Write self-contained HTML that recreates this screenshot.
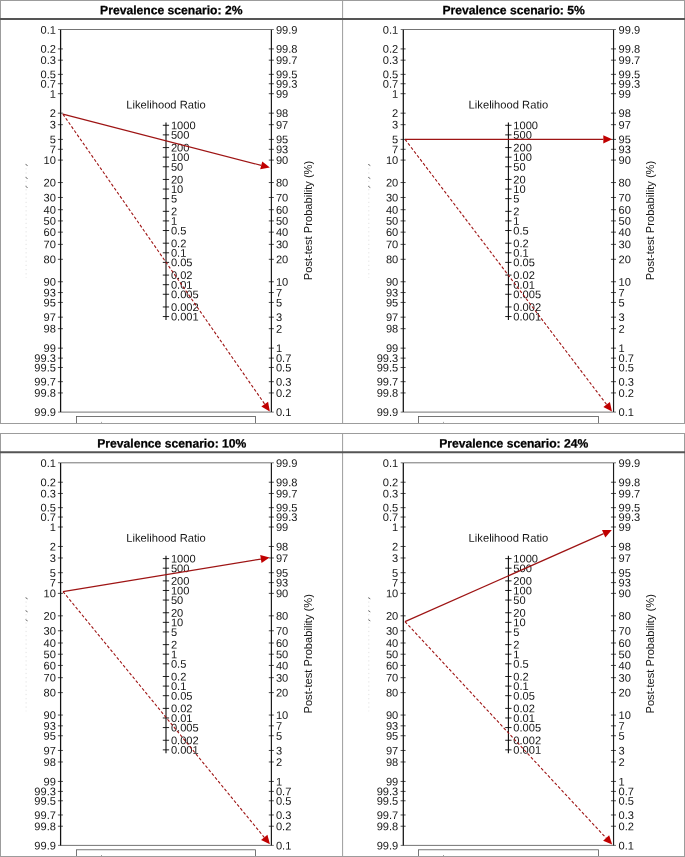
<!DOCTYPE html>
<html><head><meta charset="utf-8"><title>Fagan nomograms</title>
<style>html,body{margin:0;padding:0;background:#fff;}body{width:685px;height:857px;overflow:hidden;}svg{display:block;will-change:transform;font-family:"Liberation Sans",sans-serif;}</style></head><body>
<svg width="685" height="857" viewBox="0 0 685 857">
<rect width="685" height="857" fill="#fff"/>
<g transform="translate(0,0)">
<text x="171.3" y="14.25" text-anchor="middle" font-weight="bold" font-size="12.15" fill="#000" stroke="#000" stroke-width="0.25" transform="rotate(0.03 171.3 14.25)">Prevalence scenario: 2%</text>
<line x1="58.00" x2="273.80" y1="29.5" y2="29.5" stroke="#505050" stroke-width="0.8"/>
<line x1="58.00" x2="273.80" y1="412.1" y2="412.1" stroke="#505050" stroke-width="0.8"/>
<line x1="60.6" x2="60.6" y1="29.8" y2="412.1" stroke="#111" stroke-width="1.25"/>
<line x1="271.4" x2="271.4" y1="29.8" y2="412.1" stroke="#1c1c1c" stroke-width="1.2"/>
<text x="55.90" y="33.65" text-anchor="end" font-size="11.1" fill="#151515" transform="rotate(0.03 55.90 33.65)">0.1</text>
<text x="275.90" y="416.10" font-size="11.1" fill="#151515" transform="rotate(0.03 275.90 416.10)">0.1</text>
<line x1="57.90" x2="62.90" y1="48.92" y2="48.92" stroke="#111" stroke-width="0.75"/>
<text x="55.90" y="52.87" text-anchor="end" font-size="11.1" fill="#151515" transform="rotate(0.03 55.90 52.87)">0.2</text>
<line x1="268.80" x2="273.85" y1="392.93" y2="392.93" stroke="#111" stroke-width="0.75"/>
<text x="275.90" y="396.88" font-size="11.1" fill="#151515" transform="rotate(0.03 275.90 396.88)">0.2</text>
<line x1="57.90" x2="62.90" y1="60.17" y2="60.17" stroke="#111" stroke-width="0.75"/>
<text x="55.90" y="64.12" text-anchor="end" font-size="11.1" fill="#151515" transform="rotate(0.03 55.90 64.12)">0.3</text>
<line x1="268.80" x2="273.85" y1="381.68" y2="381.68" stroke="#111" stroke-width="0.75"/>
<text x="275.90" y="385.63" font-size="11.1" fill="#151515" transform="rotate(0.03 275.90 385.63)">0.3</text>
<line x1="57.90" x2="62.90" y1="74.37" y2="74.37" stroke="#111" stroke-width="0.75"/>
<text x="55.90" y="78.32" text-anchor="end" font-size="11.1" fill="#151515" transform="rotate(0.03 55.90 78.32)">0.5</text>
<line x1="268.80" x2="273.85" y1="367.48" y2="367.48" stroke="#111" stroke-width="0.75"/>
<text x="275.90" y="371.43" font-size="11.1" fill="#151515" transform="rotate(0.03 275.90 371.43)">0.5</text>
<line x1="57.90" x2="62.90" y1="83.74" y2="83.74" stroke="#111" stroke-width="0.75"/>
<text x="55.90" y="87.69" text-anchor="end" font-size="11.1" fill="#151515" transform="rotate(0.03 55.90 87.69)">0.7</text>
<line x1="268.80" x2="273.85" y1="358.11" y2="358.11" stroke="#111" stroke-width="0.75"/>
<text x="275.90" y="362.06" font-size="11.1" fill="#151515" transform="rotate(0.03 275.90 362.06)">0.7</text>
<line x1="57.90" x2="62.90" y1="93.70" y2="93.70" stroke="#111" stroke-width="0.75"/>
<text x="55.90" y="97.65" text-anchor="end" font-size="11.1" fill="#151515" transform="rotate(0.03 55.90 97.65)">1</text>
<line x1="268.80" x2="273.85" y1="348.15" y2="348.15" stroke="#111" stroke-width="0.75"/>
<text x="275.90" y="352.10" font-size="11.1" fill="#151515" transform="rotate(0.03 275.90 352.10)">1</text>
<line x1="57.90" x2="62.90" y1="113.17" y2="113.17" stroke="#111" stroke-width="0.75"/>
<text x="55.90" y="117.12" text-anchor="end" font-size="11.1" fill="#151515" transform="rotate(0.03 55.90 117.12)">2</text>
<line x1="268.80" x2="273.85" y1="328.68" y2="328.68" stroke="#111" stroke-width="0.75"/>
<text x="275.90" y="332.63" font-size="11.1" fill="#151515" transform="rotate(0.03 275.90 332.63)">2</text>
<line x1="57.90" x2="62.90" y1="124.68" y2="124.68" stroke="#111" stroke-width="0.75"/>
<text x="55.90" y="128.63" text-anchor="end" font-size="11.1" fill="#151515" transform="rotate(0.03 55.90 128.63)">3</text>
<line x1="268.80" x2="273.85" y1="317.17" y2="317.17" stroke="#111" stroke-width="0.75"/>
<text x="275.90" y="321.12" font-size="11.1" fill="#151515" transform="rotate(0.03 275.90 321.12)">3</text>
<line x1="57.90" x2="62.90" y1="139.40" y2="139.40" stroke="#111" stroke-width="0.75"/>
<text x="55.90" y="143.35" text-anchor="end" font-size="11.1" fill="#151515" transform="rotate(0.03 55.90 143.35)">5</text>
<line x1="268.80" x2="273.85" y1="302.45" y2="302.45" stroke="#111" stroke-width="0.75"/>
<text x="275.90" y="306.40" font-size="11.1" fill="#151515" transform="rotate(0.03 275.90 306.40)">5</text>
<line x1="57.90" x2="62.90" y1="149.31" y2="149.31" stroke="#111" stroke-width="0.75"/>
<text x="55.90" y="153.26" text-anchor="end" font-size="11.1" fill="#151515" transform="rotate(0.03 55.90 153.26)">7</text>
<line x1="268.80" x2="273.85" y1="292.54" y2="292.54" stroke="#111" stroke-width="0.75"/>
<text x="275.90" y="296.49" font-size="11.1" fill="#151515" transform="rotate(0.03 275.90 296.49)">7</text>
<line x1="57.90" x2="62.90" y1="160.09" y2="160.09" stroke="#111" stroke-width="0.75"/>
<text x="55.90" y="164.04" text-anchor="end" font-size="11.1" fill="#151515" transform="rotate(0.03 55.90 164.04)">10</text>
<line x1="268.80" x2="273.85" y1="281.76" y2="281.76" stroke="#111" stroke-width="0.75"/>
<text x="275.90" y="285.71" font-size="11.1" fill="#151515" transform="rotate(0.03 275.90 285.71)">10</text>
<line x1="57.90" x2="62.90" y1="182.54" y2="182.54" stroke="#111" stroke-width="0.75"/>
<text x="55.90" y="186.49" text-anchor="end" font-size="11.1" fill="#151515" transform="rotate(0.03 55.90 186.49)">20</text>
<line x1="268.80" x2="273.85" y1="259.31" y2="259.31" stroke="#111" stroke-width="0.75"/>
<text x="275.90" y="263.26" font-size="11.1" fill="#151515" transform="rotate(0.03 275.90 263.26)">20</text>
<line x1="57.90" x2="62.90" y1="197.47" y2="197.47" stroke="#111" stroke-width="0.75"/>
<text x="55.90" y="201.42" text-anchor="end" font-size="11.1" fill="#151515" transform="rotate(0.03 55.90 201.42)">30</text>
<line x1="268.80" x2="273.85" y1="244.38" y2="244.38" stroke="#111" stroke-width="0.75"/>
<text x="275.90" y="248.33" font-size="11.1" fill="#151515" transform="rotate(0.03 275.90 248.33)">30</text>
<line x1="57.90" x2="62.90" y1="209.70" y2="209.70" stroke="#111" stroke-width="0.75"/>
<text x="55.90" y="213.65" text-anchor="end" font-size="11.1" fill="#151515" transform="rotate(0.03 55.90 213.65)">40</text>
<line x1="268.80" x2="273.85" y1="232.15" y2="232.15" stroke="#111" stroke-width="0.75"/>
<text x="275.90" y="236.10" font-size="11.1" fill="#151515" transform="rotate(0.03 275.90 236.10)">40</text>
<line x1="57.90" x2="62.90" y1="220.92" y2="220.92" stroke="#111" stroke-width="0.75"/>
<text x="55.90" y="224.87" text-anchor="end" font-size="11.1" fill="#151515" transform="rotate(0.03 55.90 224.87)">50</text>
<line x1="268.80" x2="273.85" y1="220.92" y2="220.92" stroke="#111" stroke-width="0.75"/>
<text x="275.90" y="224.87" font-size="11.1" fill="#151515" transform="rotate(0.03 275.90 224.87)">50</text>
<line x1="57.90" x2="62.90" y1="232.15" y2="232.15" stroke="#111" stroke-width="0.75"/>
<text x="55.90" y="236.10" text-anchor="end" font-size="11.1" fill="#151515" transform="rotate(0.03 55.90 236.10)">60</text>
<line x1="268.80" x2="273.85" y1="209.70" y2="209.70" stroke="#111" stroke-width="0.75"/>
<text x="275.90" y="213.65" font-size="11.1" fill="#151515" transform="rotate(0.03 275.90 213.65)">60</text>
<line x1="57.90" x2="62.90" y1="244.38" y2="244.38" stroke="#111" stroke-width="0.75"/>
<text x="55.90" y="248.33" text-anchor="end" font-size="11.1" fill="#151515" transform="rotate(0.03 55.90 248.33)">70</text>
<line x1="268.80" x2="273.85" y1="197.47" y2="197.47" stroke="#111" stroke-width="0.75"/>
<text x="275.90" y="201.42" font-size="11.1" fill="#151515" transform="rotate(0.03 275.90 201.42)">70</text>
<line x1="57.90" x2="62.90" y1="259.31" y2="259.31" stroke="#111" stroke-width="0.75"/>
<text x="55.90" y="263.26" text-anchor="end" font-size="11.1" fill="#151515" transform="rotate(0.03 55.90 263.26)">80</text>
<line x1="268.80" x2="273.85" y1="182.54" y2="182.54" stroke="#111" stroke-width="0.75"/>
<text x="275.90" y="186.49" font-size="11.1" fill="#151515" transform="rotate(0.03 275.90 186.49)">80</text>
<line x1="57.90" x2="62.90" y1="281.76" y2="281.76" stroke="#111" stroke-width="0.75"/>
<text x="55.90" y="285.71" text-anchor="end" font-size="11.1" fill="#151515" transform="rotate(0.03 55.90 285.71)">90</text>
<line x1="268.80" x2="273.85" y1="160.09" y2="160.09" stroke="#111" stroke-width="0.75"/>
<text x="275.90" y="164.04" font-size="11.1" fill="#151515" transform="rotate(0.03 275.90 164.04)">90</text>
<line x1="57.90" x2="62.90" y1="292.54" y2="292.54" stroke="#111" stroke-width="0.75"/>
<text x="55.90" y="296.49" text-anchor="end" font-size="11.1" fill="#151515" transform="rotate(0.03 55.90 296.49)">93</text>
<line x1="268.80" x2="273.85" y1="149.31" y2="149.31" stroke="#111" stroke-width="0.75"/>
<text x="275.90" y="153.26" font-size="11.1" fill="#151515" transform="rotate(0.03 275.90 153.26)">93</text>
<line x1="57.90" x2="62.90" y1="302.45" y2="302.45" stroke="#111" stroke-width="0.75"/>
<text x="55.90" y="306.40" text-anchor="end" font-size="11.1" fill="#151515" transform="rotate(0.03 55.90 306.40)">95</text>
<line x1="268.80" x2="273.85" y1="139.40" y2="139.40" stroke="#111" stroke-width="0.75"/>
<text x="275.90" y="143.35" font-size="11.1" fill="#151515" transform="rotate(0.03 275.90 143.35)">95</text>
<line x1="57.90" x2="62.90" y1="317.17" y2="317.17" stroke="#111" stroke-width="0.75"/>
<text x="55.90" y="321.12" text-anchor="end" font-size="11.1" fill="#151515" transform="rotate(0.03 55.90 321.12)">97</text>
<line x1="268.80" x2="273.85" y1="124.68" y2="124.68" stroke="#111" stroke-width="0.75"/>
<text x="275.90" y="128.63" font-size="11.1" fill="#151515" transform="rotate(0.03 275.90 128.63)">97</text>
<line x1="57.90" x2="62.90" y1="328.68" y2="328.68" stroke="#111" stroke-width="0.75"/>
<text x="55.90" y="332.63" text-anchor="end" font-size="11.1" fill="#151515" transform="rotate(0.03 55.90 332.63)">98</text>
<line x1="268.80" x2="273.85" y1="113.17" y2="113.17" stroke="#111" stroke-width="0.75"/>
<text x="275.90" y="117.12" font-size="11.1" fill="#151515" transform="rotate(0.03 275.90 117.12)">98</text>
<line x1="57.90" x2="62.90" y1="348.15" y2="348.15" stroke="#111" stroke-width="0.75"/>
<text x="55.90" y="352.10" text-anchor="end" font-size="11.1" fill="#151515" transform="rotate(0.03 55.90 352.10)">99</text>
<line x1="268.80" x2="273.85" y1="93.70" y2="93.70" stroke="#111" stroke-width="0.75"/>
<text x="275.90" y="97.65" font-size="11.1" fill="#151515" transform="rotate(0.03 275.90 97.65)">99</text>
<line x1="57.90" x2="62.90" y1="358.11" y2="358.11" stroke="#111" stroke-width="0.75"/>
<text x="55.90" y="362.06" text-anchor="end" font-size="11.1" fill="#151515" transform="rotate(0.03 55.90 362.06)">99.3</text>
<line x1="268.80" x2="273.85" y1="83.74" y2="83.74" stroke="#111" stroke-width="0.75"/>
<text x="275.90" y="87.69" font-size="11.1" fill="#151515" transform="rotate(0.03 275.90 87.69)">99.3</text>
<line x1="57.90" x2="62.90" y1="367.48" y2="367.48" stroke="#111" stroke-width="0.75"/>
<text x="55.90" y="371.43" text-anchor="end" font-size="11.1" fill="#151515" transform="rotate(0.03 55.90 371.43)">99.5</text>
<line x1="268.80" x2="273.85" y1="74.37" y2="74.37" stroke="#111" stroke-width="0.75"/>
<text x="275.90" y="78.32" font-size="11.1" fill="#151515" transform="rotate(0.03 275.90 78.32)">99.5</text>
<line x1="57.90" x2="62.90" y1="381.68" y2="381.68" stroke="#111" stroke-width="0.75"/>
<text x="55.90" y="385.63" text-anchor="end" font-size="11.1" fill="#151515" transform="rotate(0.03 55.90 385.63)">99.7</text>
<line x1="268.80" x2="273.85" y1="60.17" y2="60.17" stroke="#111" stroke-width="0.75"/>
<text x="275.90" y="64.12" font-size="11.1" fill="#151515" transform="rotate(0.03 275.90 64.12)">99.7</text>
<line x1="57.90" x2="62.90" y1="392.93" y2="392.93" stroke="#111" stroke-width="0.75"/>
<text x="55.90" y="396.88" text-anchor="end" font-size="11.1" fill="#151515" transform="rotate(0.03 55.90 396.88)">99.8</text>
<line x1="268.80" x2="273.85" y1="48.92" y2="48.92" stroke="#111" stroke-width="0.75"/>
<text x="275.90" y="52.87" font-size="11.1" fill="#151515" transform="rotate(0.03 275.90 52.87)">99.8</text>
<text x="55.90" y="416.10" text-anchor="end" font-size="11.1" fill="#151515" transform="rotate(0.03 55.90 416.10)">99.9</text>
<text x="275.90" y="33.65" font-size="11.1" fill="#151515" transform="rotate(0.03 275.90 33.65)">99.9</text>
<line x1="166" x2="166" y1="122.5" y2="320" stroke="#151515" stroke-width="1.15"/>
<line x1="162.80" x2="169.10" y1="125.30" y2="125.30" stroke="#0a0a0a" stroke-width="0.9"/>
<text x="170.90" y="129.25" font-size="11.1" fill="#151515" transform="rotate(0.03 170.90 129.25)">1000</text>
<line x1="162.80" x2="169.10" y1="134.89" y2="134.89" stroke="#0a0a0a" stroke-width="0.9"/>
<text x="170.90" y="138.84" font-size="11.1" fill="#151515" transform="rotate(0.03 170.90 138.84)">500</text>
<line x1="162.80" x2="169.10" y1="147.58" y2="147.58" stroke="#0a0a0a" stroke-width="0.9"/>
<text x="170.90" y="151.53" font-size="11.1" fill="#151515" transform="rotate(0.03 170.90 151.53)">200</text>
<line x1="162.80" x2="169.10" y1="157.17" y2="157.17" stroke="#0a0a0a" stroke-width="0.9"/>
<text x="170.90" y="161.12" font-size="11.1" fill="#151515" transform="rotate(0.03 170.90 161.12)">100</text>
<line x1="162.80" x2="169.10" y1="166.77" y2="166.77" stroke="#0a0a0a" stroke-width="0.9"/>
<text x="170.90" y="170.72" font-size="11.1" fill="#151515" transform="rotate(0.03 170.90 170.72)">50</text>
<line x1="162.80" x2="169.10" y1="179.45" y2="179.45" stroke="#0a0a0a" stroke-width="0.9"/>
<text x="170.90" y="183.40" font-size="11.1" fill="#151515" transform="rotate(0.03 170.90 183.40)">20</text>
<line x1="162.80" x2="169.10" y1="189.05" y2="189.05" stroke="#0a0a0a" stroke-width="0.9"/>
<text x="170.90" y="193.00" font-size="11.1" fill="#151515" transform="rotate(0.03 170.90 193.00)">10</text>
<line x1="162.80" x2="169.10" y1="198.65" y2="198.65" stroke="#0a0a0a" stroke-width="0.9"/>
<text x="170.90" y="202.60" font-size="11.1" fill="#151515" transform="rotate(0.03 170.90 202.60)">5</text>
<line x1="162.80" x2="169.10" y1="211.33" y2="211.33" stroke="#0a0a0a" stroke-width="0.9"/>
<text x="170.90" y="215.28" font-size="11.1" fill="#151515" transform="rotate(0.03 170.90 215.28)">2</text>
<line x1="162.80" x2="169.10" y1="220.92" y2="220.92" stroke="#0a0a0a" stroke-width="0.9"/>
<text x="170.90" y="224.87" font-size="11.1" fill="#151515" transform="rotate(0.03 170.90 224.87)">1</text>
<line x1="162.80" x2="169.10" y1="230.52" y2="230.52" stroke="#0a0a0a" stroke-width="0.9"/>
<text x="170.90" y="234.47" font-size="11.1" fill="#151515" transform="rotate(0.03 170.90 234.47)">0.5</text>
<line x1="162.80" x2="169.10" y1="243.20" y2="243.20" stroke="#0a0a0a" stroke-width="0.9"/>
<text x="170.90" y="247.15" font-size="11.1" fill="#151515" transform="rotate(0.03 170.90 247.15)">0.2</text>
<line x1="162.80" x2="169.10" y1="252.80" y2="252.80" stroke="#0a0a0a" stroke-width="0.9"/>
<text x="170.90" y="256.75" font-size="11.1" fill="#151515" transform="rotate(0.03 170.90 256.75)">0.1</text>
<line x1="162.80" x2="169.10" y1="262.40" y2="262.40" stroke="#0a0a0a" stroke-width="0.9"/>
<text x="170.90" y="266.35" font-size="11.1" fill="#151515" transform="rotate(0.03 170.90 266.35)">0.05</text>
<line x1="162.80" x2="169.10" y1="275.08" y2="275.08" stroke="#0a0a0a" stroke-width="0.9"/>
<text x="170.90" y="279.03" font-size="11.1" fill="#151515" transform="rotate(0.03 170.90 279.03)">0.02</text>
<line x1="162.80" x2="169.10" y1="284.68" y2="284.68" stroke="#0a0a0a" stroke-width="0.9"/>
<text x="170.90" y="288.63" font-size="11.1" fill="#151515" transform="rotate(0.03 170.90 288.63)">0.01</text>
<line x1="162.80" x2="169.10" y1="294.27" y2="294.27" stroke="#0a0a0a" stroke-width="0.9"/>
<text x="170.90" y="298.22" font-size="11.1" fill="#151515" transform="rotate(0.03 170.90 298.22)">0.005</text>
<line x1="162.80" x2="169.10" y1="306.96" y2="306.96" stroke="#0a0a0a" stroke-width="0.9"/>
<text x="170.90" y="310.91" font-size="11.1" fill="#151515" transform="rotate(0.03 170.90 310.91)">0.002</text>
<line x1="162.80" x2="169.10" y1="316.55" y2="316.55" stroke="#0a0a0a" stroke-width="0.9"/>
<text x="170.90" y="320.50" font-size="11.1" fill="#151515" transform="rotate(0.03 170.90 320.50)">0.001</text>
<text x="166.00" y="108.50" text-anchor="middle" font-size="11.2" fill="#151515" transform="rotate(0.03 166.00 108.50)">Likelihood Ratio</text>
<text transform="translate(311.80,220.5) rotate(-90)" text-anchor="middle" font-size="11.15" fill="#151515">Post-test Probability (%)</text>
<line x1="26.10" x2="26.10" y1="164" y2="278" stroke="#cfcfcf" stroke-width="0.6" stroke-dasharray="1.2 3"/>
<line x1="25.60" x2="27.60" y1="164.4" y2="165.6" stroke="#444" stroke-width="0.8"/>
<line x1="25.60" x2="27.60" y1="177.4" y2="178.6" stroke="#444" stroke-width="0.8"/>
<line x1="25.60" x2="27.60" y1="186.4" y2="187.6" stroke="#444" stroke-width="0.8"/>
<rect x="76.40" y="416.5" width="179.10" height="12" fill="#fff" stroke="#555" stroke-width="0.8"/>
<rect x="101.00" y="421.9" width="1" height="0.8" fill="#888"/>
<line x1="62.90" y1="114.10" x2="264.72" y2="404.09" stroke="#9e1414" stroke-width="1.1" stroke-dasharray="3 2"/>
<polygon points="269.80,411.40 261.35,406.44 268.08,401.75" fill="#c00000"/>
<line x1="62.90" y1="114.10" x2="261.23" y2="165.37" stroke="#9e1414" stroke-width="1.2"/>
<polygon points="269.85,167.60 260.21,169.34 262.26,161.40" fill="#c00000"/>
</g>
<g transform="translate(0,0)">
<text x="513.6" y="14.25" text-anchor="middle" font-weight="bold" font-size="12.15" fill="#000" stroke="#000" stroke-width="0.25" transform="rotate(0.03 513.6 14.25)">Prevalence scenario: 5%</text>
<line x1="400.70" x2="615.95" y1="29.5" y2="29.5" stroke="#505050" stroke-width="0.8"/>
<line x1="400.70" x2="615.95" y1="412.1" y2="412.1" stroke="#505050" stroke-width="0.8"/>
<line x1="403.3" x2="403.3" y1="29.8" y2="412.1" stroke="#111" stroke-width="1.25"/>
<line x1="613.55" x2="613.55" y1="29.8" y2="412.1" stroke="#1c1c1c" stroke-width="1.15"/>
<text x="398.25" y="33.65" text-anchor="end" font-size="11.1" fill="#151515" transform="rotate(0.03 398.25 33.65)">0.1</text>
<text x="618.55" y="416.10" font-size="11.1" fill="#151515" transform="rotate(0.03 618.55 416.10)">0.1</text>
<line x1="400.60" x2="405.60" y1="48.92" y2="48.92" stroke="#111" stroke-width="0.75"/>
<text x="398.25" y="52.87" text-anchor="end" font-size="11.1" fill="#151515" transform="rotate(0.03 398.25 52.87)">0.2</text>
<line x1="610.95" x2="616.00" y1="392.93" y2="392.93" stroke="#111" stroke-width="0.75"/>
<text x="618.55" y="396.88" font-size="11.1" fill="#151515" transform="rotate(0.03 618.55 396.88)">0.2</text>
<line x1="400.60" x2="405.60" y1="60.17" y2="60.17" stroke="#111" stroke-width="0.75"/>
<text x="398.25" y="64.12" text-anchor="end" font-size="11.1" fill="#151515" transform="rotate(0.03 398.25 64.12)">0.3</text>
<line x1="610.95" x2="616.00" y1="381.68" y2="381.68" stroke="#111" stroke-width="0.75"/>
<text x="618.55" y="385.63" font-size="11.1" fill="#151515" transform="rotate(0.03 618.55 385.63)">0.3</text>
<line x1="400.60" x2="405.60" y1="74.37" y2="74.37" stroke="#111" stroke-width="0.75"/>
<text x="398.25" y="78.32" text-anchor="end" font-size="11.1" fill="#151515" transform="rotate(0.03 398.25 78.32)">0.5</text>
<line x1="610.95" x2="616.00" y1="367.48" y2="367.48" stroke="#111" stroke-width="0.75"/>
<text x="618.55" y="371.43" font-size="11.1" fill="#151515" transform="rotate(0.03 618.55 371.43)">0.5</text>
<line x1="400.60" x2="405.60" y1="83.74" y2="83.74" stroke="#111" stroke-width="0.75"/>
<text x="398.25" y="87.69" text-anchor="end" font-size="11.1" fill="#151515" transform="rotate(0.03 398.25 87.69)">0.7</text>
<line x1="610.95" x2="616.00" y1="358.11" y2="358.11" stroke="#111" stroke-width="0.75"/>
<text x="618.55" y="362.06" font-size="11.1" fill="#151515" transform="rotate(0.03 618.55 362.06)">0.7</text>
<line x1="400.60" x2="405.60" y1="93.70" y2="93.70" stroke="#111" stroke-width="0.75"/>
<text x="398.25" y="97.65" text-anchor="end" font-size="11.1" fill="#151515" transform="rotate(0.03 398.25 97.65)">1</text>
<line x1="610.95" x2="616.00" y1="348.15" y2="348.15" stroke="#111" stroke-width="0.75"/>
<text x="618.55" y="352.10" font-size="11.1" fill="#151515" transform="rotate(0.03 618.55 352.10)">1</text>
<line x1="400.60" x2="405.60" y1="113.17" y2="113.17" stroke="#111" stroke-width="0.75"/>
<text x="398.25" y="117.12" text-anchor="end" font-size="11.1" fill="#151515" transform="rotate(0.03 398.25 117.12)">2</text>
<line x1="610.95" x2="616.00" y1="328.68" y2="328.68" stroke="#111" stroke-width="0.75"/>
<text x="618.55" y="332.63" font-size="11.1" fill="#151515" transform="rotate(0.03 618.55 332.63)">2</text>
<line x1="400.60" x2="405.60" y1="124.68" y2="124.68" stroke="#111" stroke-width="0.75"/>
<text x="398.25" y="128.63" text-anchor="end" font-size="11.1" fill="#151515" transform="rotate(0.03 398.25 128.63)">3</text>
<line x1="610.95" x2="616.00" y1="317.17" y2="317.17" stroke="#111" stroke-width="0.75"/>
<text x="618.55" y="321.12" font-size="11.1" fill="#151515" transform="rotate(0.03 618.55 321.12)">3</text>
<line x1="400.60" x2="405.60" y1="139.40" y2="139.40" stroke="#111" stroke-width="0.75"/>
<text x="398.25" y="143.35" text-anchor="end" font-size="11.1" fill="#151515" transform="rotate(0.03 398.25 143.35)">5</text>
<line x1="610.95" x2="616.00" y1="302.45" y2="302.45" stroke="#111" stroke-width="0.75"/>
<text x="618.55" y="306.40" font-size="11.1" fill="#151515" transform="rotate(0.03 618.55 306.40)">5</text>
<line x1="400.60" x2="405.60" y1="149.31" y2="149.31" stroke="#111" stroke-width="0.75"/>
<text x="398.25" y="153.26" text-anchor="end" font-size="11.1" fill="#151515" transform="rotate(0.03 398.25 153.26)">7</text>
<line x1="610.95" x2="616.00" y1="292.54" y2="292.54" stroke="#111" stroke-width="0.75"/>
<text x="618.55" y="296.49" font-size="11.1" fill="#151515" transform="rotate(0.03 618.55 296.49)">7</text>
<line x1="400.60" x2="405.60" y1="160.09" y2="160.09" stroke="#111" stroke-width="0.75"/>
<text x="398.25" y="164.04" text-anchor="end" font-size="11.1" fill="#151515" transform="rotate(0.03 398.25 164.04)">10</text>
<line x1="610.95" x2="616.00" y1="281.76" y2="281.76" stroke="#111" stroke-width="0.75"/>
<text x="618.55" y="285.71" font-size="11.1" fill="#151515" transform="rotate(0.03 618.55 285.71)">10</text>
<line x1="400.60" x2="405.60" y1="182.54" y2="182.54" stroke="#111" stroke-width="0.75"/>
<text x="398.25" y="186.49" text-anchor="end" font-size="11.1" fill="#151515" transform="rotate(0.03 398.25 186.49)">20</text>
<line x1="610.95" x2="616.00" y1="259.31" y2="259.31" stroke="#111" stroke-width="0.75"/>
<text x="618.55" y="263.26" font-size="11.1" fill="#151515" transform="rotate(0.03 618.55 263.26)">20</text>
<line x1="400.60" x2="405.60" y1="197.47" y2="197.47" stroke="#111" stroke-width="0.75"/>
<text x="398.25" y="201.42" text-anchor="end" font-size="11.1" fill="#151515" transform="rotate(0.03 398.25 201.42)">30</text>
<line x1="610.95" x2="616.00" y1="244.38" y2="244.38" stroke="#111" stroke-width="0.75"/>
<text x="618.55" y="248.33" font-size="11.1" fill="#151515" transform="rotate(0.03 618.55 248.33)">30</text>
<line x1="400.60" x2="405.60" y1="209.70" y2="209.70" stroke="#111" stroke-width="0.75"/>
<text x="398.25" y="213.65" text-anchor="end" font-size="11.1" fill="#151515" transform="rotate(0.03 398.25 213.65)">40</text>
<line x1="610.95" x2="616.00" y1="232.15" y2="232.15" stroke="#111" stroke-width="0.75"/>
<text x="618.55" y="236.10" font-size="11.1" fill="#151515" transform="rotate(0.03 618.55 236.10)">40</text>
<line x1="400.60" x2="405.60" y1="220.92" y2="220.92" stroke="#111" stroke-width="0.75"/>
<text x="398.25" y="224.87" text-anchor="end" font-size="11.1" fill="#151515" transform="rotate(0.03 398.25 224.87)">50</text>
<line x1="610.95" x2="616.00" y1="220.92" y2="220.92" stroke="#111" stroke-width="0.75"/>
<text x="618.55" y="224.87" font-size="11.1" fill="#151515" transform="rotate(0.03 618.55 224.87)">50</text>
<line x1="400.60" x2="405.60" y1="232.15" y2="232.15" stroke="#111" stroke-width="0.75"/>
<text x="398.25" y="236.10" text-anchor="end" font-size="11.1" fill="#151515" transform="rotate(0.03 398.25 236.10)">60</text>
<line x1="610.95" x2="616.00" y1="209.70" y2="209.70" stroke="#111" stroke-width="0.75"/>
<text x="618.55" y="213.65" font-size="11.1" fill="#151515" transform="rotate(0.03 618.55 213.65)">60</text>
<line x1="400.60" x2="405.60" y1="244.38" y2="244.38" stroke="#111" stroke-width="0.75"/>
<text x="398.25" y="248.33" text-anchor="end" font-size="11.1" fill="#151515" transform="rotate(0.03 398.25 248.33)">70</text>
<line x1="610.95" x2="616.00" y1="197.47" y2="197.47" stroke="#111" stroke-width="0.75"/>
<text x="618.55" y="201.42" font-size="11.1" fill="#151515" transform="rotate(0.03 618.55 201.42)">70</text>
<line x1="400.60" x2="405.60" y1="259.31" y2="259.31" stroke="#111" stroke-width="0.75"/>
<text x="398.25" y="263.26" text-anchor="end" font-size="11.1" fill="#151515" transform="rotate(0.03 398.25 263.26)">80</text>
<line x1="610.95" x2="616.00" y1="182.54" y2="182.54" stroke="#111" stroke-width="0.75"/>
<text x="618.55" y="186.49" font-size="11.1" fill="#151515" transform="rotate(0.03 618.55 186.49)">80</text>
<line x1="400.60" x2="405.60" y1="281.76" y2="281.76" stroke="#111" stroke-width="0.75"/>
<text x="398.25" y="285.71" text-anchor="end" font-size="11.1" fill="#151515" transform="rotate(0.03 398.25 285.71)">90</text>
<line x1="610.95" x2="616.00" y1="160.09" y2="160.09" stroke="#111" stroke-width="0.75"/>
<text x="618.55" y="164.04" font-size="11.1" fill="#151515" transform="rotate(0.03 618.55 164.04)">90</text>
<line x1="400.60" x2="405.60" y1="292.54" y2="292.54" stroke="#111" stroke-width="0.75"/>
<text x="398.25" y="296.49" text-anchor="end" font-size="11.1" fill="#151515" transform="rotate(0.03 398.25 296.49)">93</text>
<line x1="610.95" x2="616.00" y1="149.31" y2="149.31" stroke="#111" stroke-width="0.75"/>
<text x="618.55" y="153.26" font-size="11.1" fill="#151515" transform="rotate(0.03 618.55 153.26)">93</text>
<line x1="400.60" x2="405.60" y1="302.45" y2="302.45" stroke="#111" stroke-width="0.75"/>
<text x="398.25" y="306.40" text-anchor="end" font-size="11.1" fill="#151515" transform="rotate(0.03 398.25 306.40)">95</text>
<line x1="610.95" x2="616.00" y1="139.40" y2="139.40" stroke="#111" stroke-width="0.75"/>
<text x="618.55" y="143.35" font-size="11.1" fill="#151515" transform="rotate(0.03 618.55 143.35)">95</text>
<line x1="400.60" x2="405.60" y1="317.17" y2="317.17" stroke="#111" stroke-width="0.75"/>
<text x="398.25" y="321.12" text-anchor="end" font-size="11.1" fill="#151515" transform="rotate(0.03 398.25 321.12)">97</text>
<line x1="610.95" x2="616.00" y1="124.68" y2="124.68" stroke="#111" stroke-width="0.75"/>
<text x="618.55" y="128.63" font-size="11.1" fill="#151515" transform="rotate(0.03 618.55 128.63)">97</text>
<line x1="400.60" x2="405.60" y1="328.68" y2="328.68" stroke="#111" stroke-width="0.75"/>
<text x="398.25" y="332.63" text-anchor="end" font-size="11.1" fill="#151515" transform="rotate(0.03 398.25 332.63)">98</text>
<line x1="610.95" x2="616.00" y1="113.17" y2="113.17" stroke="#111" stroke-width="0.75"/>
<text x="618.55" y="117.12" font-size="11.1" fill="#151515" transform="rotate(0.03 618.55 117.12)">98</text>
<line x1="400.60" x2="405.60" y1="348.15" y2="348.15" stroke="#111" stroke-width="0.75"/>
<text x="398.25" y="352.10" text-anchor="end" font-size="11.1" fill="#151515" transform="rotate(0.03 398.25 352.10)">99</text>
<line x1="610.95" x2="616.00" y1="93.70" y2="93.70" stroke="#111" stroke-width="0.75"/>
<text x="618.55" y="97.65" font-size="11.1" fill="#151515" transform="rotate(0.03 618.55 97.65)">99</text>
<line x1="400.60" x2="405.60" y1="358.11" y2="358.11" stroke="#111" stroke-width="0.75"/>
<text x="398.25" y="362.06" text-anchor="end" font-size="11.1" fill="#151515" transform="rotate(0.03 398.25 362.06)">99.3</text>
<line x1="610.95" x2="616.00" y1="83.74" y2="83.74" stroke="#111" stroke-width="0.75"/>
<text x="618.55" y="87.69" font-size="11.1" fill="#151515" transform="rotate(0.03 618.55 87.69)">99.3</text>
<line x1="400.60" x2="405.60" y1="367.48" y2="367.48" stroke="#111" stroke-width="0.75"/>
<text x="398.25" y="371.43" text-anchor="end" font-size="11.1" fill="#151515" transform="rotate(0.03 398.25 371.43)">99.5</text>
<line x1="610.95" x2="616.00" y1="74.37" y2="74.37" stroke="#111" stroke-width="0.75"/>
<text x="618.55" y="78.32" font-size="11.1" fill="#151515" transform="rotate(0.03 618.55 78.32)">99.5</text>
<line x1="400.60" x2="405.60" y1="381.68" y2="381.68" stroke="#111" stroke-width="0.75"/>
<text x="398.25" y="385.63" text-anchor="end" font-size="11.1" fill="#151515" transform="rotate(0.03 398.25 385.63)">99.7</text>
<line x1="610.95" x2="616.00" y1="60.17" y2="60.17" stroke="#111" stroke-width="0.75"/>
<text x="618.55" y="64.12" font-size="11.1" fill="#151515" transform="rotate(0.03 618.55 64.12)">99.7</text>
<line x1="400.60" x2="405.60" y1="392.93" y2="392.93" stroke="#111" stroke-width="0.75"/>
<text x="398.25" y="396.88" text-anchor="end" font-size="11.1" fill="#151515" transform="rotate(0.03 398.25 396.88)">99.8</text>
<line x1="610.95" x2="616.00" y1="48.92" y2="48.92" stroke="#111" stroke-width="0.75"/>
<text x="618.55" y="52.87" font-size="11.1" fill="#151515" transform="rotate(0.03 618.55 52.87)">99.8</text>
<text x="398.25" y="416.10" text-anchor="end" font-size="11.1" fill="#151515" transform="rotate(0.03 398.25 416.10)">99.9</text>
<text x="618.55" y="33.65" font-size="11.1" fill="#151515" transform="rotate(0.03 618.55 33.65)">99.9</text>
<line x1="508.425" x2="508.425" y1="122.5" y2="320" stroke="#151515" stroke-width="1.15"/>
<line x1="505.22" x2="511.52" y1="125.30" y2="125.30" stroke="#0a0a0a" stroke-width="0.9"/>
<text x="513.32" y="129.25" font-size="11.1" fill="#151515" transform="rotate(0.03 513.32 129.25)">1000</text>
<line x1="505.22" x2="511.52" y1="134.89" y2="134.89" stroke="#0a0a0a" stroke-width="0.9"/>
<text x="513.32" y="138.84" font-size="11.1" fill="#151515" transform="rotate(0.03 513.32 138.84)">500</text>
<line x1="505.22" x2="511.52" y1="147.58" y2="147.58" stroke="#0a0a0a" stroke-width="0.9"/>
<text x="513.32" y="151.53" font-size="11.1" fill="#151515" transform="rotate(0.03 513.32 151.53)">200</text>
<line x1="505.22" x2="511.52" y1="157.17" y2="157.17" stroke="#0a0a0a" stroke-width="0.9"/>
<text x="513.32" y="161.12" font-size="11.1" fill="#151515" transform="rotate(0.03 513.32 161.12)">100</text>
<line x1="505.22" x2="511.52" y1="166.77" y2="166.77" stroke="#0a0a0a" stroke-width="0.9"/>
<text x="513.32" y="170.72" font-size="11.1" fill="#151515" transform="rotate(0.03 513.32 170.72)">50</text>
<line x1="505.22" x2="511.52" y1="179.45" y2="179.45" stroke="#0a0a0a" stroke-width="0.9"/>
<text x="513.32" y="183.40" font-size="11.1" fill="#151515" transform="rotate(0.03 513.32 183.40)">20</text>
<line x1="505.22" x2="511.52" y1="189.05" y2="189.05" stroke="#0a0a0a" stroke-width="0.9"/>
<text x="513.32" y="193.00" font-size="11.1" fill="#151515" transform="rotate(0.03 513.32 193.00)">10</text>
<line x1="505.22" x2="511.52" y1="198.65" y2="198.65" stroke="#0a0a0a" stroke-width="0.9"/>
<text x="513.32" y="202.60" font-size="11.1" fill="#151515" transform="rotate(0.03 513.32 202.60)">5</text>
<line x1="505.22" x2="511.52" y1="211.33" y2="211.33" stroke="#0a0a0a" stroke-width="0.9"/>
<text x="513.32" y="215.28" font-size="11.1" fill="#151515" transform="rotate(0.03 513.32 215.28)">2</text>
<line x1="505.22" x2="511.52" y1="220.92" y2="220.92" stroke="#0a0a0a" stroke-width="0.9"/>
<text x="513.32" y="224.87" font-size="11.1" fill="#151515" transform="rotate(0.03 513.32 224.87)">1</text>
<line x1="505.22" x2="511.52" y1="230.52" y2="230.52" stroke="#0a0a0a" stroke-width="0.9"/>
<text x="513.32" y="234.47" font-size="11.1" fill="#151515" transform="rotate(0.03 513.32 234.47)">0.5</text>
<line x1="505.22" x2="511.52" y1="243.20" y2="243.20" stroke="#0a0a0a" stroke-width="0.9"/>
<text x="513.32" y="247.15" font-size="11.1" fill="#151515" transform="rotate(0.03 513.32 247.15)">0.2</text>
<line x1="505.22" x2="511.52" y1="252.80" y2="252.80" stroke="#0a0a0a" stroke-width="0.9"/>
<text x="513.32" y="256.75" font-size="11.1" fill="#151515" transform="rotate(0.03 513.32 256.75)">0.1</text>
<line x1="505.22" x2="511.52" y1="262.40" y2="262.40" stroke="#0a0a0a" stroke-width="0.9"/>
<text x="513.32" y="266.35" font-size="11.1" fill="#151515" transform="rotate(0.03 513.32 266.35)">0.05</text>
<line x1="505.22" x2="511.52" y1="275.08" y2="275.08" stroke="#0a0a0a" stroke-width="0.9"/>
<text x="513.32" y="279.03" font-size="11.1" fill="#151515" transform="rotate(0.03 513.32 279.03)">0.02</text>
<line x1="505.22" x2="511.52" y1="284.68" y2="284.68" stroke="#0a0a0a" stroke-width="0.9"/>
<text x="513.32" y="288.63" font-size="11.1" fill="#151515" transform="rotate(0.03 513.32 288.63)">0.01</text>
<line x1="505.22" x2="511.52" y1="294.27" y2="294.27" stroke="#0a0a0a" stroke-width="0.9"/>
<text x="513.32" y="298.22" font-size="11.1" fill="#151515" transform="rotate(0.03 513.32 298.22)">0.005</text>
<line x1="505.22" x2="511.52" y1="306.96" y2="306.96" stroke="#0a0a0a" stroke-width="0.9"/>
<text x="513.32" y="310.91" font-size="11.1" fill="#151515" transform="rotate(0.03 513.32 310.91)">0.002</text>
<line x1="505.22" x2="511.52" y1="316.55" y2="316.55" stroke="#0a0a0a" stroke-width="0.9"/>
<text x="513.32" y="320.50" font-size="11.1" fill="#151515" transform="rotate(0.03 513.32 320.50)">0.001</text>
<text x="508.42" y="108.50" text-anchor="middle" font-size="11.2" fill="#151515" transform="rotate(0.03 508.42 108.50)">Likelihood Ratio</text>
<text transform="translate(653.95,220.5) rotate(-90)" text-anchor="middle" font-size="11.15" fill="#151515">Post-test Probability (%)</text>
<line x1="368.80" x2="368.80" y1="164" y2="278" stroke="#cfcfcf" stroke-width="0.6" stroke-dasharray="1.2 3"/>
<line x1="368.30" x2="370.30" y1="164.4" y2="165.6" stroke="#444" stroke-width="0.8"/>
<line x1="368.30" x2="370.30" y1="177.4" y2="178.6" stroke="#444" stroke-width="0.8"/>
<line x1="368.30" x2="370.30" y1="186.4" y2="187.6" stroke="#444" stroke-width="0.8"/>
<rect x="418.40" y="416.5" width="180.20" height="12" fill="#fff" stroke="#555" stroke-width="0.8"/>
<rect x="443.00" y="421.9" width="1" height="0.8" fill="#888"/>
<line x1="405.00" y1="139.30" x2="606.61" y2="404.51" stroke="#9e1414" stroke-width="1.1" stroke-dasharray="3 2"/>
<polygon points="612.00,411.60 603.35,407.00 609.88,402.03" fill="#c00000"/>
<line x1="405.00" y1="139.30" x2="603.30" y2="139.30" stroke="#9e1414" stroke-width="1.2"/>
<polygon points="612.20,139.30 603.30,143.40 603.30,135.20" fill="#c00000"/>
</g>
<g transform="translate(0,433.3)">
<text x="171.8" y="14.25" text-anchor="middle" font-weight="bold" font-size="12.15" fill="#000" stroke="#000" stroke-width="0.25" transform="rotate(0.03 171.8 14.25)">Prevalence scenario: 10%</text>
<line x1="58.00" x2="273.80" y1="29.5" y2="29.5" stroke="#505050" stroke-width="0.8"/>
<line x1="58.00" x2="273.80" y1="412.1" y2="412.1" stroke="#505050" stroke-width="0.8"/>
<line x1="60.6" x2="60.6" y1="29.8" y2="412.1" stroke="#111" stroke-width="1.25"/>
<line x1="271.4" x2="271.4" y1="29.8" y2="412.1" stroke="#1c1c1c" stroke-width="1.2"/>
<text x="55.90" y="33.65" text-anchor="end" font-size="11.1" fill="#151515" transform="rotate(0.03 55.90 33.65)">0.1</text>
<text x="275.90" y="416.10" font-size="11.1" fill="#151515" transform="rotate(0.03 275.90 416.10)">0.1</text>
<line x1="57.90" x2="62.90" y1="48.92" y2="48.92" stroke="#111" stroke-width="0.75"/>
<text x="55.90" y="52.87" text-anchor="end" font-size="11.1" fill="#151515" transform="rotate(0.03 55.90 52.87)">0.2</text>
<line x1="268.80" x2="273.85" y1="392.93" y2="392.93" stroke="#111" stroke-width="0.75"/>
<text x="275.90" y="396.88" font-size="11.1" fill="#151515" transform="rotate(0.03 275.90 396.88)">0.2</text>
<line x1="57.90" x2="62.90" y1="60.17" y2="60.17" stroke="#111" stroke-width="0.75"/>
<text x="55.90" y="64.12" text-anchor="end" font-size="11.1" fill="#151515" transform="rotate(0.03 55.90 64.12)">0.3</text>
<line x1="268.80" x2="273.85" y1="381.68" y2="381.68" stroke="#111" stroke-width="0.75"/>
<text x="275.90" y="385.63" font-size="11.1" fill="#151515" transform="rotate(0.03 275.90 385.63)">0.3</text>
<line x1="57.90" x2="62.90" y1="74.37" y2="74.37" stroke="#111" stroke-width="0.75"/>
<text x="55.90" y="78.32" text-anchor="end" font-size="11.1" fill="#151515" transform="rotate(0.03 55.90 78.32)">0.5</text>
<line x1="268.80" x2="273.85" y1="367.48" y2="367.48" stroke="#111" stroke-width="0.75"/>
<text x="275.90" y="371.43" font-size="11.1" fill="#151515" transform="rotate(0.03 275.90 371.43)">0.5</text>
<line x1="57.90" x2="62.90" y1="83.74" y2="83.74" stroke="#111" stroke-width="0.75"/>
<text x="55.90" y="87.69" text-anchor="end" font-size="11.1" fill="#151515" transform="rotate(0.03 55.90 87.69)">0.7</text>
<line x1="268.80" x2="273.85" y1="358.11" y2="358.11" stroke="#111" stroke-width="0.75"/>
<text x="275.90" y="362.06" font-size="11.1" fill="#151515" transform="rotate(0.03 275.90 362.06)">0.7</text>
<line x1="57.90" x2="62.90" y1="93.70" y2="93.70" stroke="#111" stroke-width="0.75"/>
<text x="55.90" y="97.65" text-anchor="end" font-size="11.1" fill="#151515" transform="rotate(0.03 55.90 97.65)">1</text>
<line x1="268.80" x2="273.85" y1="348.15" y2="348.15" stroke="#111" stroke-width="0.75"/>
<text x="275.90" y="352.10" font-size="11.1" fill="#151515" transform="rotate(0.03 275.90 352.10)">1</text>
<line x1="57.90" x2="62.90" y1="113.17" y2="113.17" stroke="#111" stroke-width="0.75"/>
<text x="55.90" y="117.12" text-anchor="end" font-size="11.1" fill="#151515" transform="rotate(0.03 55.90 117.12)">2</text>
<line x1="268.80" x2="273.85" y1="328.68" y2="328.68" stroke="#111" stroke-width="0.75"/>
<text x="275.90" y="332.63" font-size="11.1" fill="#151515" transform="rotate(0.03 275.90 332.63)">2</text>
<line x1="57.90" x2="62.90" y1="124.68" y2="124.68" stroke="#111" stroke-width="0.75"/>
<text x="55.90" y="128.63" text-anchor="end" font-size="11.1" fill="#151515" transform="rotate(0.03 55.90 128.63)">3</text>
<line x1="268.80" x2="273.85" y1="317.17" y2="317.17" stroke="#111" stroke-width="0.75"/>
<text x="275.90" y="321.12" font-size="11.1" fill="#151515" transform="rotate(0.03 275.90 321.12)">3</text>
<line x1="57.90" x2="62.90" y1="139.40" y2="139.40" stroke="#111" stroke-width="0.75"/>
<text x="55.90" y="143.35" text-anchor="end" font-size="11.1" fill="#151515" transform="rotate(0.03 55.90 143.35)">5</text>
<line x1="268.80" x2="273.85" y1="302.45" y2="302.45" stroke="#111" stroke-width="0.75"/>
<text x="275.90" y="306.40" font-size="11.1" fill="#151515" transform="rotate(0.03 275.90 306.40)">5</text>
<line x1="57.90" x2="62.90" y1="149.31" y2="149.31" stroke="#111" stroke-width="0.75"/>
<text x="55.90" y="153.26" text-anchor="end" font-size="11.1" fill="#151515" transform="rotate(0.03 55.90 153.26)">7</text>
<line x1="268.80" x2="273.85" y1="292.54" y2="292.54" stroke="#111" stroke-width="0.75"/>
<text x="275.90" y="296.49" font-size="11.1" fill="#151515" transform="rotate(0.03 275.90 296.49)">7</text>
<line x1="57.90" x2="62.90" y1="160.09" y2="160.09" stroke="#111" stroke-width="0.75"/>
<text x="55.90" y="164.04" text-anchor="end" font-size="11.1" fill="#151515" transform="rotate(0.03 55.90 164.04)">10</text>
<line x1="268.80" x2="273.85" y1="281.76" y2="281.76" stroke="#111" stroke-width="0.75"/>
<text x="275.90" y="285.71" font-size="11.1" fill="#151515" transform="rotate(0.03 275.90 285.71)">10</text>
<line x1="57.90" x2="62.90" y1="182.54" y2="182.54" stroke="#111" stroke-width="0.75"/>
<text x="55.90" y="186.49" text-anchor="end" font-size="11.1" fill="#151515" transform="rotate(0.03 55.90 186.49)">20</text>
<line x1="268.80" x2="273.85" y1="259.31" y2="259.31" stroke="#111" stroke-width="0.75"/>
<text x="275.90" y="263.26" font-size="11.1" fill="#151515" transform="rotate(0.03 275.90 263.26)">20</text>
<line x1="57.90" x2="62.90" y1="197.47" y2="197.47" stroke="#111" stroke-width="0.75"/>
<text x="55.90" y="201.42" text-anchor="end" font-size="11.1" fill="#151515" transform="rotate(0.03 55.90 201.42)">30</text>
<line x1="268.80" x2="273.85" y1="244.38" y2="244.38" stroke="#111" stroke-width="0.75"/>
<text x="275.90" y="248.33" font-size="11.1" fill="#151515" transform="rotate(0.03 275.90 248.33)">30</text>
<line x1="57.90" x2="62.90" y1="209.70" y2="209.70" stroke="#111" stroke-width="0.75"/>
<text x="55.90" y="213.65" text-anchor="end" font-size="11.1" fill="#151515" transform="rotate(0.03 55.90 213.65)">40</text>
<line x1="268.80" x2="273.85" y1="232.15" y2="232.15" stroke="#111" stroke-width="0.75"/>
<text x="275.90" y="236.10" font-size="11.1" fill="#151515" transform="rotate(0.03 275.90 236.10)">40</text>
<line x1="57.90" x2="62.90" y1="220.92" y2="220.92" stroke="#111" stroke-width="0.75"/>
<text x="55.90" y="224.87" text-anchor="end" font-size="11.1" fill="#151515" transform="rotate(0.03 55.90 224.87)">50</text>
<line x1="268.80" x2="273.85" y1="220.92" y2="220.92" stroke="#111" stroke-width="0.75"/>
<text x="275.90" y="224.87" font-size="11.1" fill="#151515" transform="rotate(0.03 275.90 224.87)">50</text>
<line x1="57.90" x2="62.90" y1="232.15" y2="232.15" stroke="#111" stroke-width="0.75"/>
<text x="55.90" y="236.10" text-anchor="end" font-size="11.1" fill="#151515" transform="rotate(0.03 55.90 236.10)">60</text>
<line x1="268.80" x2="273.85" y1="209.70" y2="209.70" stroke="#111" stroke-width="0.75"/>
<text x="275.90" y="213.65" font-size="11.1" fill="#151515" transform="rotate(0.03 275.90 213.65)">60</text>
<line x1="57.90" x2="62.90" y1="244.38" y2="244.38" stroke="#111" stroke-width="0.75"/>
<text x="55.90" y="248.33" text-anchor="end" font-size="11.1" fill="#151515" transform="rotate(0.03 55.90 248.33)">70</text>
<line x1="268.80" x2="273.85" y1="197.47" y2="197.47" stroke="#111" stroke-width="0.75"/>
<text x="275.90" y="201.42" font-size="11.1" fill="#151515" transform="rotate(0.03 275.90 201.42)">70</text>
<line x1="57.90" x2="62.90" y1="259.31" y2="259.31" stroke="#111" stroke-width="0.75"/>
<text x="55.90" y="263.26" text-anchor="end" font-size="11.1" fill="#151515" transform="rotate(0.03 55.90 263.26)">80</text>
<line x1="268.80" x2="273.85" y1="182.54" y2="182.54" stroke="#111" stroke-width="0.75"/>
<text x="275.90" y="186.49" font-size="11.1" fill="#151515" transform="rotate(0.03 275.90 186.49)">80</text>
<line x1="57.90" x2="62.90" y1="281.76" y2="281.76" stroke="#111" stroke-width="0.75"/>
<text x="55.90" y="285.71" text-anchor="end" font-size="11.1" fill="#151515" transform="rotate(0.03 55.90 285.71)">90</text>
<line x1="268.80" x2="273.85" y1="160.09" y2="160.09" stroke="#111" stroke-width="0.75"/>
<text x="275.90" y="164.04" font-size="11.1" fill="#151515" transform="rotate(0.03 275.90 164.04)">90</text>
<line x1="57.90" x2="62.90" y1="292.54" y2="292.54" stroke="#111" stroke-width="0.75"/>
<text x="55.90" y="296.49" text-anchor="end" font-size="11.1" fill="#151515" transform="rotate(0.03 55.90 296.49)">93</text>
<line x1="268.80" x2="273.85" y1="149.31" y2="149.31" stroke="#111" stroke-width="0.75"/>
<text x="275.90" y="153.26" font-size="11.1" fill="#151515" transform="rotate(0.03 275.90 153.26)">93</text>
<line x1="57.90" x2="62.90" y1="302.45" y2="302.45" stroke="#111" stroke-width="0.75"/>
<text x="55.90" y="306.40" text-anchor="end" font-size="11.1" fill="#151515" transform="rotate(0.03 55.90 306.40)">95</text>
<line x1="268.80" x2="273.85" y1="139.40" y2="139.40" stroke="#111" stroke-width="0.75"/>
<text x="275.90" y="143.35" font-size="11.1" fill="#151515" transform="rotate(0.03 275.90 143.35)">95</text>
<line x1="57.90" x2="62.90" y1="317.17" y2="317.17" stroke="#111" stroke-width="0.75"/>
<text x="55.90" y="321.12" text-anchor="end" font-size="11.1" fill="#151515" transform="rotate(0.03 55.90 321.12)">97</text>
<line x1="268.80" x2="273.85" y1="124.68" y2="124.68" stroke="#111" stroke-width="0.75"/>
<text x="275.90" y="128.63" font-size="11.1" fill="#151515" transform="rotate(0.03 275.90 128.63)">97</text>
<line x1="57.90" x2="62.90" y1="328.68" y2="328.68" stroke="#111" stroke-width="0.75"/>
<text x="55.90" y="332.63" text-anchor="end" font-size="11.1" fill="#151515" transform="rotate(0.03 55.90 332.63)">98</text>
<line x1="268.80" x2="273.85" y1="113.17" y2="113.17" stroke="#111" stroke-width="0.75"/>
<text x="275.90" y="117.12" font-size="11.1" fill="#151515" transform="rotate(0.03 275.90 117.12)">98</text>
<line x1="57.90" x2="62.90" y1="348.15" y2="348.15" stroke="#111" stroke-width="0.75"/>
<text x="55.90" y="352.10" text-anchor="end" font-size="11.1" fill="#151515" transform="rotate(0.03 55.90 352.10)">99</text>
<line x1="268.80" x2="273.85" y1="93.70" y2="93.70" stroke="#111" stroke-width="0.75"/>
<text x="275.90" y="97.65" font-size="11.1" fill="#151515" transform="rotate(0.03 275.90 97.65)">99</text>
<line x1="57.90" x2="62.90" y1="358.11" y2="358.11" stroke="#111" stroke-width="0.75"/>
<text x="55.90" y="362.06" text-anchor="end" font-size="11.1" fill="#151515" transform="rotate(0.03 55.90 362.06)">99.3</text>
<line x1="268.80" x2="273.85" y1="83.74" y2="83.74" stroke="#111" stroke-width="0.75"/>
<text x="275.90" y="87.69" font-size="11.1" fill="#151515" transform="rotate(0.03 275.90 87.69)">99.3</text>
<line x1="57.90" x2="62.90" y1="367.48" y2="367.48" stroke="#111" stroke-width="0.75"/>
<text x="55.90" y="371.43" text-anchor="end" font-size="11.1" fill="#151515" transform="rotate(0.03 55.90 371.43)">99.5</text>
<line x1="268.80" x2="273.85" y1="74.37" y2="74.37" stroke="#111" stroke-width="0.75"/>
<text x="275.90" y="78.32" font-size="11.1" fill="#151515" transform="rotate(0.03 275.90 78.32)">99.5</text>
<line x1="57.90" x2="62.90" y1="381.68" y2="381.68" stroke="#111" stroke-width="0.75"/>
<text x="55.90" y="385.63" text-anchor="end" font-size="11.1" fill="#151515" transform="rotate(0.03 55.90 385.63)">99.7</text>
<line x1="268.80" x2="273.85" y1="60.17" y2="60.17" stroke="#111" stroke-width="0.75"/>
<text x="275.90" y="64.12" font-size="11.1" fill="#151515" transform="rotate(0.03 275.90 64.12)">99.7</text>
<line x1="57.90" x2="62.90" y1="392.93" y2="392.93" stroke="#111" stroke-width="0.75"/>
<text x="55.90" y="396.88" text-anchor="end" font-size="11.1" fill="#151515" transform="rotate(0.03 55.90 396.88)">99.8</text>
<line x1="268.80" x2="273.85" y1="48.92" y2="48.92" stroke="#111" stroke-width="0.75"/>
<text x="275.90" y="52.87" font-size="11.1" fill="#151515" transform="rotate(0.03 275.90 52.87)">99.8</text>
<text x="55.90" y="416.10" text-anchor="end" font-size="11.1" fill="#151515" transform="rotate(0.03 55.90 416.10)">99.9</text>
<text x="275.90" y="33.65" font-size="11.1" fill="#151515" transform="rotate(0.03 275.90 33.65)">99.9</text>
<line x1="166" x2="166" y1="122.5" y2="320" stroke="#151515" stroke-width="1.15"/>
<line x1="162.80" x2="169.10" y1="125.30" y2="125.30" stroke="#0a0a0a" stroke-width="0.9"/>
<text x="170.90" y="129.25" font-size="11.1" fill="#151515" transform="rotate(0.03 170.90 129.25)">1000</text>
<line x1="162.80" x2="169.10" y1="134.89" y2="134.89" stroke="#0a0a0a" stroke-width="0.9"/>
<text x="170.90" y="138.84" font-size="11.1" fill="#151515" transform="rotate(0.03 170.90 138.84)">500</text>
<line x1="162.80" x2="169.10" y1="147.58" y2="147.58" stroke="#0a0a0a" stroke-width="0.9"/>
<text x="170.90" y="151.53" font-size="11.1" fill="#151515" transform="rotate(0.03 170.90 151.53)">200</text>
<line x1="162.80" x2="169.10" y1="157.17" y2="157.17" stroke="#0a0a0a" stroke-width="0.9"/>
<text x="170.90" y="161.12" font-size="11.1" fill="#151515" transform="rotate(0.03 170.90 161.12)">100</text>
<line x1="162.80" x2="169.10" y1="166.77" y2="166.77" stroke="#0a0a0a" stroke-width="0.9"/>
<text x="170.90" y="170.72" font-size="11.1" fill="#151515" transform="rotate(0.03 170.90 170.72)">50</text>
<line x1="162.80" x2="169.10" y1="179.45" y2="179.45" stroke="#0a0a0a" stroke-width="0.9"/>
<text x="170.90" y="183.40" font-size="11.1" fill="#151515" transform="rotate(0.03 170.90 183.40)">20</text>
<line x1="162.80" x2="169.10" y1="189.05" y2="189.05" stroke="#0a0a0a" stroke-width="0.9"/>
<text x="170.90" y="193.00" font-size="11.1" fill="#151515" transform="rotate(0.03 170.90 193.00)">10</text>
<line x1="162.80" x2="169.10" y1="198.65" y2="198.65" stroke="#0a0a0a" stroke-width="0.9"/>
<text x="170.90" y="202.60" font-size="11.1" fill="#151515" transform="rotate(0.03 170.90 202.60)">5</text>
<line x1="162.80" x2="169.10" y1="211.33" y2="211.33" stroke="#0a0a0a" stroke-width="0.9"/>
<text x="170.90" y="215.28" font-size="11.1" fill="#151515" transform="rotate(0.03 170.90 215.28)">2</text>
<line x1="162.80" x2="169.10" y1="220.92" y2="220.92" stroke="#0a0a0a" stroke-width="0.9"/>
<text x="170.90" y="224.87" font-size="11.1" fill="#151515" transform="rotate(0.03 170.90 224.87)">1</text>
<line x1="162.80" x2="169.10" y1="230.52" y2="230.52" stroke="#0a0a0a" stroke-width="0.9"/>
<text x="170.90" y="234.47" font-size="11.1" fill="#151515" transform="rotate(0.03 170.90 234.47)">0.5</text>
<line x1="162.80" x2="169.10" y1="243.20" y2="243.20" stroke="#0a0a0a" stroke-width="0.9"/>
<text x="170.90" y="247.15" font-size="11.1" fill="#151515" transform="rotate(0.03 170.90 247.15)">0.2</text>
<line x1="162.80" x2="169.10" y1="252.80" y2="252.80" stroke="#0a0a0a" stroke-width="0.9"/>
<text x="170.90" y="256.75" font-size="11.1" fill="#151515" transform="rotate(0.03 170.90 256.75)">0.1</text>
<line x1="162.80" x2="169.10" y1="262.40" y2="262.40" stroke="#0a0a0a" stroke-width="0.9"/>
<text x="170.90" y="266.35" font-size="11.1" fill="#151515" transform="rotate(0.03 170.90 266.35)">0.05</text>
<line x1="162.80" x2="169.10" y1="275.08" y2="275.08" stroke="#0a0a0a" stroke-width="0.9"/>
<text x="170.90" y="279.03" font-size="11.1" fill="#151515" transform="rotate(0.03 170.90 279.03)">0.02</text>
<line x1="162.80" x2="169.10" y1="284.68" y2="284.68" stroke="#0a0a0a" stroke-width="0.9"/>
<text x="170.90" y="288.63" font-size="11.1" fill="#151515" transform="rotate(0.03 170.90 288.63)">0.01</text>
<line x1="162.80" x2="169.10" y1="294.27" y2="294.27" stroke="#0a0a0a" stroke-width="0.9"/>
<text x="170.90" y="298.22" font-size="11.1" fill="#151515" transform="rotate(0.03 170.90 298.22)">0.005</text>
<line x1="162.80" x2="169.10" y1="306.96" y2="306.96" stroke="#0a0a0a" stroke-width="0.9"/>
<text x="170.90" y="310.91" font-size="11.1" fill="#151515" transform="rotate(0.03 170.90 310.91)">0.002</text>
<line x1="162.80" x2="169.10" y1="316.55" y2="316.55" stroke="#0a0a0a" stroke-width="0.9"/>
<text x="170.90" y="320.50" font-size="11.1" fill="#151515" transform="rotate(0.03 170.90 320.50)">0.001</text>
<text x="166.00" y="108.50" text-anchor="middle" font-size="11.2" fill="#151515" transform="rotate(0.03 166.00 108.50)">Likelihood Ratio</text>
<text transform="translate(311.80,220.5) rotate(-90)" text-anchor="middle" font-size="11.15" fill="#151515">Post-test Probability (%)</text>
<line x1="26.10" x2="26.10" y1="164" y2="278" stroke="#cfcfcf" stroke-width="0.6" stroke-dasharray="1.2 3"/>
<line x1="25.60" x2="27.60" y1="164.4" y2="165.6" stroke="#444" stroke-width="0.8"/>
<line x1="25.60" x2="27.60" y1="177.4" y2="178.6" stroke="#444" stroke-width="0.8"/>
<line x1="25.60" x2="27.60" y1="186.4" y2="187.6" stroke="#444" stroke-width="0.8"/>
<rect x="76.40" y="416.5" width="179.10" height="12" fill="#fff" stroke="#555" stroke-width="0.8"/>
<rect x="101.00" y="421.9" width="1" height="0.8" fill="#888"/>
<line x1="63.00" y1="158.25" x2="264.26" y2="404.11" stroke="#9e1414" stroke-width="1.1" stroke-dasharray="3 2"/>
<polygon points="269.90,411.00 261.09,406.71 267.44,401.52" fill="#c00000"/>
<line x1="63.00" y1="158.25" x2="260.87" y2="125.74" stroke="#9e1414" stroke-width="1.2"/>
<polygon points="269.65,124.30 261.53,129.79 260.20,121.70" fill="#c00000"/>
</g>
<g transform="translate(0,433.3)">
<text x="513.75" y="14.25" text-anchor="middle" font-weight="bold" font-size="12.15" fill="#000" stroke="#000" stroke-width="0.25" transform="rotate(0.03 513.75 14.25)">Prevalence scenario: 24%</text>
<line x1="400.70" x2="615.95" y1="29.5" y2="29.5" stroke="#505050" stroke-width="0.8"/>
<line x1="400.70" x2="615.95" y1="412.1" y2="412.1" stroke="#505050" stroke-width="0.8"/>
<line x1="403.3" x2="403.3" y1="29.8" y2="412.1" stroke="#111" stroke-width="1.25"/>
<line x1="613.55" x2="613.55" y1="29.8" y2="412.1" stroke="#1c1c1c" stroke-width="1.15"/>
<text x="398.25" y="33.65" text-anchor="end" font-size="11.1" fill="#151515" transform="rotate(0.03 398.25 33.65)">0.1</text>
<text x="618.55" y="416.10" font-size="11.1" fill="#151515" transform="rotate(0.03 618.55 416.10)">0.1</text>
<line x1="400.60" x2="405.60" y1="48.92" y2="48.92" stroke="#111" stroke-width="0.75"/>
<text x="398.25" y="52.87" text-anchor="end" font-size="11.1" fill="#151515" transform="rotate(0.03 398.25 52.87)">0.2</text>
<line x1="610.95" x2="616.00" y1="392.93" y2="392.93" stroke="#111" stroke-width="0.75"/>
<text x="618.55" y="396.88" font-size="11.1" fill="#151515" transform="rotate(0.03 618.55 396.88)">0.2</text>
<line x1="400.60" x2="405.60" y1="60.17" y2="60.17" stroke="#111" stroke-width="0.75"/>
<text x="398.25" y="64.12" text-anchor="end" font-size="11.1" fill="#151515" transform="rotate(0.03 398.25 64.12)">0.3</text>
<line x1="610.95" x2="616.00" y1="381.68" y2="381.68" stroke="#111" stroke-width="0.75"/>
<text x="618.55" y="385.63" font-size="11.1" fill="#151515" transform="rotate(0.03 618.55 385.63)">0.3</text>
<line x1="400.60" x2="405.60" y1="74.37" y2="74.37" stroke="#111" stroke-width="0.75"/>
<text x="398.25" y="78.32" text-anchor="end" font-size="11.1" fill="#151515" transform="rotate(0.03 398.25 78.32)">0.5</text>
<line x1="610.95" x2="616.00" y1="367.48" y2="367.48" stroke="#111" stroke-width="0.75"/>
<text x="618.55" y="371.43" font-size="11.1" fill="#151515" transform="rotate(0.03 618.55 371.43)">0.5</text>
<line x1="400.60" x2="405.60" y1="83.74" y2="83.74" stroke="#111" stroke-width="0.75"/>
<text x="398.25" y="87.69" text-anchor="end" font-size="11.1" fill="#151515" transform="rotate(0.03 398.25 87.69)">0.7</text>
<line x1="610.95" x2="616.00" y1="358.11" y2="358.11" stroke="#111" stroke-width="0.75"/>
<text x="618.55" y="362.06" font-size="11.1" fill="#151515" transform="rotate(0.03 618.55 362.06)">0.7</text>
<line x1="400.60" x2="405.60" y1="93.70" y2="93.70" stroke="#111" stroke-width="0.75"/>
<text x="398.25" y="97.65" text-anchor="end" font-size="11.1" fill="#151515" transform="rotate(0.03 398.25 97.65)">1</text>
<line x1="610.95" x2="616.00" y1="348.15" y2="348.15" stroke="#111" stroke-width="0.75"/>
<text x="618.55" y="352.10" font-size="11.1" fill="#151515" transform="rotate(0.03 618.55 352.10)">1</text>
<line x1="400.60" x2="405.60" y1="113.17" y2="113.17" stroke="#111" stroke-width="0.75"/>
<text x="398.25" y="117.12" text-anchor="end" font-size="11.1" fill="#151515" transform="rotate(0.03 398.25 117.12)">2</text>
<line x1="610.95" x2="616.00" y1="328.68" y2="328.68" stroke="#111" stroke-width="0.75"/>
<text x="618.55" y="332.63" font-size="11.1" fill="#151515" transform="rotate(0.03 618.55 332.63)">2</text>
<line x1="400.60" x2="405.60" y1="124.68" y2="124.68" stroke="#111" stroke-width="0.75"/>
<text x="398.25" y="128.63" text-anchor="end" font-size="11.1" fill="#151515" transform="rotate(0.03 398.25 128.63)">3</text>
<line x1="610.95" x2="616.00" y1="317.17" y2="317.17" stroke="#111" stroke-width="0.75"/>
<text x="618.55" y="321.12" font-size="11.1" fill="#151515" transform="rotate(0.03 618.55 321.12)">3</text>
<line x1="400.60" x2="405.60" y1="139.40" y2="139.40" stroke="#111" stroke-width="0.75"/>
<text x="398.25" y="143.35" text-anchor="end" font-size="11.1" fill="#151515" transform="rotate(0.03 398.25 143.35)">5</text>
<line x1="610.95" x2="616.00" y1="302.45" y2="302.45" stroke="#111" stroke-width="0.75"/>
<text x="618.55" y="306.40" font-size="11.1" fill="#151515" transform="rotate(0.03 618.55 306.40)">5</text>
<line x1="400.60" x2="405.60" y1="149.31" y2="149.31" stroke="#111" stroke-width="0.75"/>
<text x="398.25" y="153.26" text-anchor="end" font-size="11.1" fill="#151515" transform="rotate(0.03 398.25 153.26)">7</text>
<line x1="610.95" x2="616.00" y1="292.54" y2="292.54" stroke="#111" stroke-width="0.75"/>
<text x="618.55" y="296.49" font-size="11.1" fill="#151515" transform="rotate(0.03 618.55 296.49)">7</text>
<line x1="400.60" x2="405.60" y1="160.09" y2="160.09" stroke="#111" stroke-width="0.75"/>
<text x="398.25" y="164.04" text-anchor="end" font-size="11.1" fill="#151515" transform="rotate(0.03 398.25 164.04)">10</text>
<line x1="610.95" x2="616.00" y1="281.76" y2="281.76" stroke="#111" stroke-width="0.75"/>
<text x="618.55" y="285.71" font-size="11.1" fill="#151515" transform="rotate(0.03 618.55 285.71)">10</text>
<line x1="400.60" x2="405.60" y1="182.54" y2="182.54" stroke="#111" stroke-width="0.75"/>
<text x="398.25" y="186.49" text-anchor="end" font-size="11.1" fill="#151515" transform="rotate(0.03 398.25 186.49)">20</text>
<line x1="610.95" x2="616.00" y1="259.31" y2="259.31" stroke="#111" stroke-width="0.75"/>
<text x="618.55" y="263.26" font-size="11.1" fill="#151515" transform="rotate(0.03 618.55 263.26)">20</text>
<line x1="400.60" x2="405.60" y1="197.47" y2="197.47" stroke="#111" stroke-width="0.75"/>
<text x="398.25" y="201.42" text-anchor="end" font-size="11.1" fill="#151515" transform="rotate(0.03 398.25 201.42)">30</text>
<line x1="610.95" x2="616.00" y1="244.38" y2="244.38" stroke="#111" stroke-width="0.75"/>
<text x="618.55" y="248.33" font-size="11.1" fill="#151515" transform="rotate(0.03 618.55 248.33)">30</text>
<line x1="400.60" x2="405.60" y1="209.70" y2="209.70" stroke="#111" stroke-width="0.75"/>
<text x="398.25" y="213.65" text-anchor="end" font-size="11.1" fill="#151515" transform="rotate(0.03 398.25 213.65)">40</text>
<line x1="610.95" x2="616.00" y1="232.15" y2="232.15" stroke="#111" stroke-width="0.75"/>
<text x="618.55" y="236.10" font-size="11.1" fill="#151515" transform="rotate(0.03 618.55 236.10)">40</text>
<line x1="400.60" x2="405.60" y1="220.92" y2="220.92" stroke="#111" stroke-width="0.75"/>
<text x="398.25" y="224.87" text-anchor="end" font-size="11.1" fill="#151515" transform="rotate(0.03 398.25 224.87)">50</text>
<line x1="610.95" x2="616.00" y1="220.92" y2="220.92" stroke="#111" stroke-width="0.75"/>
<text x="618.55" y="224.87" font-size="11.1" fill="#151515" transform="rotate(0.03 618.55 224.87)">50</text>
<line x1="400.60" x2="405.60" y1="232.15" y2="232.15" stroke="#111" stroke-width="0.75"/>
<text x="398.25" y="236.10" text-anchor="end" font-size="11.1" fill="#151515" transform="rotate(0.03 398.25 236.10)">60</text>
<line x1="610.95" x2="616.00" y1="209.70" y2="209.70" stroke="#111" stroke-width="0.75"/>
<text x="618.55" y="213.65" font-size="11.1" fill="#151515" transform="rotate(0.03 618.55 213.65)">60</text>
<line x1="400.60" x2="405.60" y1="244.38" y2="244.38" stroke="#111" stroke-width="0.75"/>
<text x="398.25" y="248.33" text-anchor="end" font-size="11.1" fill="#151515" transform="rotate(0.03 398.25 248.33)">70</text>
<line x1="610.95" x2="616.00" y1="197.47" y2="197.47" stroke="#111" stroke-width="0.75"/>
<text x="618.55" y="201.42" font-size="11.1" fill="#151515" transform="rotate(0.03 618.55 201.42)">70</text>
<line x1="400.60" x2="405.60" y1="259.31" y2="259.31" stroke="#111" stroke-width="0.75"/>
<text x="398.25" y="263.26" text-anchor="end" font-size="11.1" fill="#151515" transform="rotate(0.03 398.25 263.26)">80</text>
<line x1="610.95" x2="616.00" y1="182.54" y2="182.54" stroke="#111" stroke-width="0.75"/>
<text x="618.55" y="186.49" font-size="11.1" fill="#151515" transform="rotate(0.03 618.55 186.49)">80</text>
<line x1="400.60" x2="405.60" y1="281.76" y2="281.76" stroke="#111" stroke-width="0.75"/>
<text x="398.25" y="285.71" text-anchor="end" font-size="11.1" fill="#151515" transform="rotate(0.03 398.25 285.71)">90</text>
<line x1="610.95" x2="616.00" y1="160.09" y2="160.09" stroke="#111" stroke-width="0.75"/>
<text x="618.55" y="164.04" font-size="11.1" fill="#151515" transform="rotate(0.03 618.55 164.04)">90</text>
<line x1="400.60" x2="405.60" y1="292.54" y2="292.54" stroke="#111" stroke-width="0.75"/>
<text x="398.25" y="296.49" text-anchor="end" font-size="11.1" fill="#151515" transform="rotate(0.03 398.25 296.49)">93</text>
<line x1="610.95" x2="616.00" y1="149.31" y2="149.31" stroke="#111" stroke-width="0.75"/>
<text x="618.55" y="153.26" font-size="11.1" fill="#151515" transform="rotate(0.03 618.55 153.26)">93</text>
<line x1="400.60" x2="405.60" y1="302.45" y2="302.45" stroke="#111" stroke-width="0.75"/>
<text x="398.25" y="306.40" text-anchor="end" font-size="11.1" fill="#151515" transform="rotate(0.03 398.25 306.40)">95</text>
<line x1="610.95" x2="616.00" y1="139.40" y2="139.40" stroke="#111" stroke-width="0.75"/>
<text x="618.55" y="143.35" font-size="11.1" fill="#151515" transform="rotate(0.03 618.55 143.35)">95</text>
<line x1="400.60" x2="405.60" y1="317.17" y2="317.17" stroke="#111" stroke-width="0.75"/>
<text x="398.25" y="321.12" text-anchor="end" font-size="11.1" fill="#151515" transform="rotate(0.03 398.25 321.12)">97</text>
<line x1="610.95" x2="616.00" y1="124.68" y2="124.68" stroke="#111" stroke-width="0.75"/>
<text x="618.55" y="128.63" font-size="11.1" fill="#151515" transform="rotate(0.03 618.55 128.63)">97</text>
<line x1="400.60" x2="405.60" y1="328.68" y2="328.68" stroke="#111" stroke-width="0.75"/>
<text x="398.25" y="332.63" text-anchor="end" font-size="11.1" fill="#151515" transform="rotate(0.03 398.25 332.63)">98</text>
<line x1="610.95" x2="616.00" y1="113.17" y2="113.17" stroke="#111" stroke-width="0.75"/>
<text x="618.55" y="117.12" font-size="11.1" fill="#151515" transform="rotate(0.03 618.55 117.12)">98</text>
<line x1="400.60" x2="405.60" y1="348.15" y2="348.15" stroke="#111" stroke-width="0.75"/>
<text x="398.25" y="352.10" text-anchor="end" font-size="11.1" fill="#151515" transform="rotate(0.03 398.25 352.10)">99</text>
<line x1="610.95" x2="616.00" y1="93.70" y2="93.70" stroke="#111" stroke-width="0.75"/>
<text x="618.55" y="97.65" font-size="11.1" fill="#151515" transform="rotate(0.03 618.55 97.65)">99</text>
<line x1="400.60" x2="405.60" y1="358.11" y2="358.11" stroke="#111" stroke-width="0.75"/>
<text x="398.25" y="362.06" text-anchor="end" font-size="11.1" fill="#151515" transform="rotate(0.03 398.25 362.06)">99.3</text>
<line x1="610.95" x2="616.00" y1="83.74" y2="83.74" stroke="#111" stroke-width="0.75"/>
<text x="618.55" y="87.69" font-size="11.1" fill="#151515" transform="rotate(0.03 618.55 87.69)">99.3</text>
<line x1="400.60" x2="405.60" y1="367.48" y2="367.48" stroke="#111" stroke-width="0.75"/>
<text x="398.25" y="371.43" text-anchor="end" font-size="11.1" fill="#151515" transform="rotate(0.03 398.25 371.43)">99.5</text>
<line x1="610.95" x2="616.00" y1="74.37" y2="74.37" stroke="#111" stroke-width="0.75"/>
<text x="618.55" y="78.32" font-size="11.1" fill="#151515" transform="rotate(0.03 618.55 78.32)">99.5</text>
<line x1="400.60" x2="405.60" y1="381.68" y2="381.68" stroke="#111" stroke-width="0.75"/>
<text x="398.25" y="385.63" text-anchor="end" font-size="11.1" fill="#151515" transform="rotate(0.03 398.25 385.63)">99.7</text>
<line x1="610.95" x2="616.00" y1="60.17" y2="60.17" stroke="#111" stroke-width="0.75"/>
<text x="618.55" y="64.12" font-size="11.1" fill="#151515" transform="rotate(0.03 618.55 64.12)">99.7</text>
<line x1="400.60" x2="405.60" y1="392.93" y2="392.93" stroke="#111" stroke-width="0.75"/>
<text x="398.25" y="396.88" text-anchor="end" font-size="11.1" fill="#151515" transform="rotate(0.03 398.25 396.88)">99.8</text>
<line x1="610.95" x2="616.00" y1="48.92" y2="48.92" stroke="#111" stroke-width="0.75"/>
<text x="618.55" y="52.87" font-size="11.1" fill="#151515" transform="rotate(0.03 618.55 52.87)">99.8</text>
<text x="398.25" y="416.10" text-anchor="end" font-size="11.1" fill="#151515" transform="rotate(0.03 398.25 416.10)">99.9</text>
<text x="618.55" y="33.65" font-size="11.1" fill="#151515" transform="rotate(0.03 618.55 33.65)">99.9</text>
<line x1="508.425" x2="508.425" y1="122.5" y2="320" stroke="#151515" stroke-width="1.15"/>
<line x1="505.22" x2="511.52" y1="125.30" y2="125.30" stroke="#0a0a0a" stroke-width="0.9"/>
<text x="513.32" y="129.25" font-size="11.1" fill="#151515" transform="rotate(0.03 513.32 129.25)">1000</text>
<line x1="505.22" x2="511.52" y1="134.89" y2="134.89" stroke="#0a0a0a" stroke-width="0.9"/>
<text x="513.32" y="138.84" font-size="11.1" fill="#151515" transform="rotate(0.03 513.32 138.84)">500</text>
<line x1="505.22" x2="511.52" y1="147.58" y2="147.58" stroke="#0a0a0a" stroke-width="0.9"/>
<text x="513.32" y="151.53" font-size="11.1" fill="#151515" transform="rotate(0.03 513.32 151.53)">200</text>
<line x1="505.22" x2="511.52" y1="157.17" y2="157.17" stroke="#0a0a0a" stroke-width="0.9"/>
<text x="513.32" y="161.12" font-size="11.1" fill="#151515" transform="rotate(0.03 513.32 161.12)">100</text>
<line x1="505.22" x2="511.52" y1="166.77" y2="166.77" stroke="#0a0a0a" stroke-width="0.9"/>
<text x="513.32" y="170.72" font-size="11.1" fill="#151515" transform="rotate(0.03 513.32 170.72)">50</text>
<line x1="505.22" x2="511.52" y1="179.45" y2="179.45" stroke="#0a0a0a" stroke-width="0.9"/>
<text x="513.32" y="183.40" font-size="11.1" fill="#151515" transform="rotate(0.03 513.32 183.40)">20</text>
<line x1="505.22" x2="511.52" y1="189.05" y2="189.05" stroke="#0a0a0a" stroke-width="0.9"/>
<text x="513.32" y="193.00" font-size="11.1" fill="#151515" transform="rotate(0.03 513.32 193.00)">10</text>
<line x1="505.22" x2="511.52" y1="198.65" y2="198.65" stroke="#0a0a0a" stroke-width="0.9"/>
<text x="513.32" y="202.60" font-size="11.1" fill="#151515" transform="rotate(0.03 513.32 202.60)">5</text>
<line x1="505.22" x2="511.52" y1="211.33" y2="211.33" stroke="#0a0a0a" stroke-width="0.9"/>
<text x="513.32" y="215.28" font-size="11.1" fill="#151515" transform="rotate(0.03 513.32 215.28)">2</text>
<line x1="505.22" x2="511.52" y1="220.92" y2="220.92" stroke="#0a0a0a" stroke-width="0.9"/>
<text x="513.32" y="224.87" font-size="11.1" fill="#151515" transform="rotate(0.03 513.32 224.87)">1</text>
<line x1="505.22" x2="511.52" y1="230.52" y2="230.52" stroke="#0a0a0a" stroke-width="0.9"/>
<text x="513.32" y="234.47" font-size="11.1" fill="#151515" transform="rotate(0.03 513.32 234.47)">0.5</text>
<line x1="505.22" x2="511.52" y1="243.20" y2="243.20" stroke="#0a0a0a" stroke-width="0.9"/>
<text x="513.32" y="247.15" font-size="11.1" fill="#151515" transform="rotate(0.03 513.32 247.15)">0.2</text>
<line x1="505.22" x2="511.52" y1="252.80" y2="252.80" stroke="#0a0a0a" stroke-width="0.9"/>
<text x="513.32" y="256.75" font-size="11.1" fill="#151515" transform="rotate(0.03 513.32 256.75)">0.1</text>
<line x1="505.22" x2="511.52" y1="262.40" y2="262.40" stroke="#0a0a0a" stroke-width="0.9"/>
<text x="513.32" y="266.35" font-size="11.1" fill="#151515" transform="rotate(0.03 513.32 266.35)">0.05</text>
<line x1="505.22" x2="511.52" y1="275.08" y2="275.08" stroke="#0a0a0a" stroke-width="0.9"/>
<text x="513.32" y="279.03" font-size="11.1" fill="#151515" transform="rotate(0.03 513.32 279.03)">0.02</text>
<line x1="505.22" x2="511.52" y1="284.68" y2="284.68" stroke="#0a0a0a" stroke-width="0.9"/>
<text x="513.32" y="288.63" font-size="11.1" fill="#151515" transform="rotate(0.03 513.32 288.63)">0.01</text>
<line x1="505.22" x2="511.52" y1="294.27" y2="294.27" stroke="#0a0a0a" stroke-width="0.9"/>
<text x="513.32" y="298.22" font-size="11.1" fill="#151515" transform="rotate(0.03 513.32 298.22)">0.005</text>
<line x1="505.22" x2="511.52" y1="306.96" y2="306.96" stroke="#0a0a0a" stroke-width="0.9"/>
<text x="513.32" y="310.91" font-size="11.1" fill="#151515" transform="rotate(0.03 513.32 310.91)">0.002</text>
<line x1="505.22" x2="511.52" y1="316.55" y2="316.55" stroke="#0a0a0a" stroke-width="0.9"/>
<text x="513.32" y="320.50" font-size="11.1" fill="#151515" transform="rotate(0.03 513.32 320.50)">0.001</text>
<text x="508.42" y="108.50" text-anchor="middle" font-size="11.2" fill="#151515" transform="rotate(0.03 508.42 108.50)">Likelihood Ratio</text>
<text transform="translate(653.95,220.5) rotate(-90)" text-anchor="middle" font-size="11.15" fill="#151515">Post-test Probability (%)</text>
<line x1="368.80" x2="368.80" y1="164" y2="278" stroke="#cfcfcf" stroke-width="0.6" stroke-dasharray="1.2 3"/>
<line x1="368.30" x2="370.30" y1="164.4" y2="165.6" stroke="#444" stroke-width="0.8"/>
<line x1="368.30" x2="370.30" y1="177.4" y2="178.6" stroke="#444" stroke-width="0.8"/>
<line x1="368.30" x2="370.30" y1="186.4" y2="187.6" stroke="#444" stroke-width="0.8"/>
<rect x="418.40" y="416.5" width="180.20" height="12" fill="#fff" stroke="#555" stroke-width="0.8"/>
<rect x="443.00" y="421.9" width="1" height="0.8" fill="#888"/>
<line x1="405.00" y1="188.30" x2="606.14" y2="404.78" stroke="#9e1414" stroke-width="1.1" stroke-dasharray="3 2"/>
<polygon points="612.20,411.30 603.14,407.57 609.15,401.99" fill="#c00000"/>
<line x1="405.00" y1="188.30" x2="603.66" y2="100.35" stroke="#9e1414" stroke-width="1.2"/>
<polygon points="611.80,96.75 605.32,104.10 602.00,96.60" fill="#c00000"/>
</g>
<rect x="0" y="424" width="685" height="9" fill="#fff"/>
<rect x="0.5" y="0.5" width="684" height="423" fill="none" stroke="#9c9c9c" stroke-width="1"/>
<line x1="342.6" x2="342.6" y1="0" y2="424" stroke="#9c9c9c" stroke-width="1"/>
<line x1="0" x2="685" y1="19" y2="19" stroke="#555" stroke-width="1.9"/>
<rect x="0.5" y="433.5" width="684" height="423" fill="none" stroke="#9c9c9c" stroke-width="1"/>
<line x1="342.6" x2="342.6" y1="433" y2="857" stroke="#9c9c9c" stroke-width="1"/>
<line x1="0" x2="685" y1="452.2" y2="452.2" stroke="#555" stroke-width="1.9"/>
</svg></body></html>
